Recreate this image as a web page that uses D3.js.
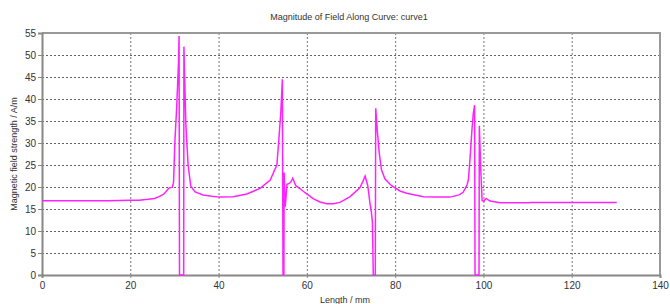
<!DOCTYPE html>
<html>
<head>
<meta charset="utf-8">
<script src="https://cdnjs.cloudflare.com/ajax/libs/d3/7.8.5/d3.min.js"></script>
<style>
  body { margin: 0; background: #fff; }
  svg { display: block; }
  text { font-family: "Liberation Sans", Arial, sans-serif; fill: #333; }
</style>
</head>
<body>
<svg id="viz"></svg>
<script>
// data
var chartTitle = 'Magnitude of Field Along Curve: curve1';
var xTitle = 'Length / mm';
var yTitle = 'Magnetic field strength / A/m';
var xTicks = [0, 20, 40, 60, 80, 100, 120, 140];
var yTicks = [0, 5, 10, 15, 20, 25, 30, 35, 40, 45, 50, 55];

var lengthMm = [
  0, 5, 10, 15, 20, 22, 24, 25.5, 26.5, 27.5, 28.3, 28.8, 29.5, 29.8, 30.1, 30.5, 30.9, 31.05,
  31.15, 32.1, 32.15, 32.3, 32.6, 33.1, 33.7, 34.7, 36.5, 38.5, 40.2, 43.3, 46.4, 49.4, 51.7,
  53.2, 53.6, 54.1, 54.45, 54.6, 54.8, 54.85, 55.1, 55.5, 56.0, 56.4, 56.8, 57.5, 58.5, 59.6,
  61.5, 63.0, 64.5, 66.0, 67.5, 69.8, 72.0, 72.8, 73.2, 73.8, 74.3, 74.6, 74.85, 75.05, 75.5,
  75.6, 76.0, 76.4, 76.9, 77.7, 79.2, 81.1, 82.6, 86.4, 89, 92.4, 94.5, 95.4, 96.3, 96.6, 97.0,
  97.4, 97.7, 98.0, 98.1, 99.0, 99.07, 99.4, 99.7, 100.1, 100.6, 101.5, 103.8, 110.5, 110.6, 130.2
];
var fieldH = [
  16.9, 16.9, 16.9, 16.9, 17.0, 17.0, 17.2, 17.4, 17.8, 18.3, 19.2, 19.8, 19.9, 21.0, 30.3, 37.9, 47.7, 54.3,
  0, 0, 51.9, 45.5, 34.0, 25.0, 20.2, 18.9, 18.2, 17.9, 17.7, 17.8, 18.4, 19.7, 21.6,
  25.0, 30, 37, 44.5, 0, 0, 23.3, 15.5, 20.6, 20.8, 21.2, 22.0, 20.3, 19.6, 18.7,
  17.3, 16.6, 16.2, 16.2, 16.5, 17.8, 19.8, 21.5, 22.5, 20.3, 16.3, 14.4, 12.0, 0, 0,
  37.9, 32.2, 27.7, 23.9, 21.8, 20.3, 19.1, 18.6, 17.8, 17.7, 17.7, 18.2, 18.8, 20.5, 21.7, 27.0,
  33, 36.7, 38.6, 0, 0, 33.9, 23.9, 16.9, 16.8, 17.4, 16.8, 16.4, 16.4, 16.5, 16.5
];

var width = 670, height = 304;
var margin = {top: 33, right: 10, bottom: 29, left: 42};

let svg = d3.select('#viz')
  .attr('width', width)
  .attr('height', height);

var x = d3.scaleLinear().domain([0, 140]).range([margin.left, width - margin.right]);
var y = d3.scaleLinear().domain([0, 55]).range([height - margin.bottom, margin.top]);

//grid
svg.append('g')
  .selectAll('line')
  .data(yTicks.filter(d => d > 0 && d < 55))
  .enter().append('line')
  .attr('x1', x(0)).attr('x2', x(140))
  .attr('y1', d => y(d) + 0.5).attr('y2', d => y(d) + 0.5)
  .attr('stroke', '#666').attr('stroke-dasharray', '2,2');

svg.append('g')
  .selectAll('line')
  .data(xTicks.filter(d => d > 0 && d < 140))
  .enter().append('line')
  .attr('y1', y(0)).attr('y2', y(55))
  .attr('x1', d => x(d) + 0.5).attr('x2', d => x(d) + 0.5)
  .attr('stroke', '#777').attr('stroke-dasharray', '2,2');

//frame (top and right)
svg.append('path')
  .attr('d', 'M' + x(0) + ',' + y(55) + 'H' + x(140) + 'V' + y(0))
  .attr('fill', 'none').attr('stroke', '#999').attr('stroke-width', 2);

//axes
let xAxis = svg.append('g')
  .attr('transform', 'translate(0,' + y(0) + ')')
  .call(d3.axisBottom(x).tickValues(xTicks).tickSize(3).tickPadding(4));
let yAxis = svg.append('g')
  .attr('transform', 'translate(' + x(0) + ',0)')
  .call(d3.axisLeft(y).tickValues(yTicks).tickSize(4).tickPadding(2));

[xAxis, yAxis].forEach(function(a) {
  a.select('.domain').attr('stroke', '#888').attr('stroke-width', 2);
  a.selectAll('.tick line').attr('stroke', '#888');
  a.selectAll('.tick text').attr('font-size', 10).attr('font-family', 'Liberation Sans, Arial, sans-serif').attr('fill', '#333');
});

//curve
var pts = lengthMm.map((d, i) => [d, fieldH[i]]);
svg.append('path')
  .datum(pts)
  .attr('fill', 'none')
  .attr('stroke', '#ff22ff')
  .attr('stroke-width', 1.5)
  .attr('d', d3.line().x(d => x(d[0])).y(d => y(d[1])));

//titles
svg.append('text')
  .attr('x', 349).attr('y', 20)
  .attr('text-anchor', 'middle')
  .attr('font-size', 9)
  .text(chartTitle);

svg.append('text')
  .attr('x', (x(0) + x(140)) / 2 - 6).attr('y', 303)
  .attr('text-anchor', 'middle')
  .attr('font-size', 9)
  .text(xTitle);

svg.append('text')
  .attr('transform', 'translate(17,' + (y(27.5)) + ')rotate(-90)')
  .attr('text-anchor', 'middle')
  .attr('font-size', 9)
  .text(yTitle);
</script>
</body>
</html>
